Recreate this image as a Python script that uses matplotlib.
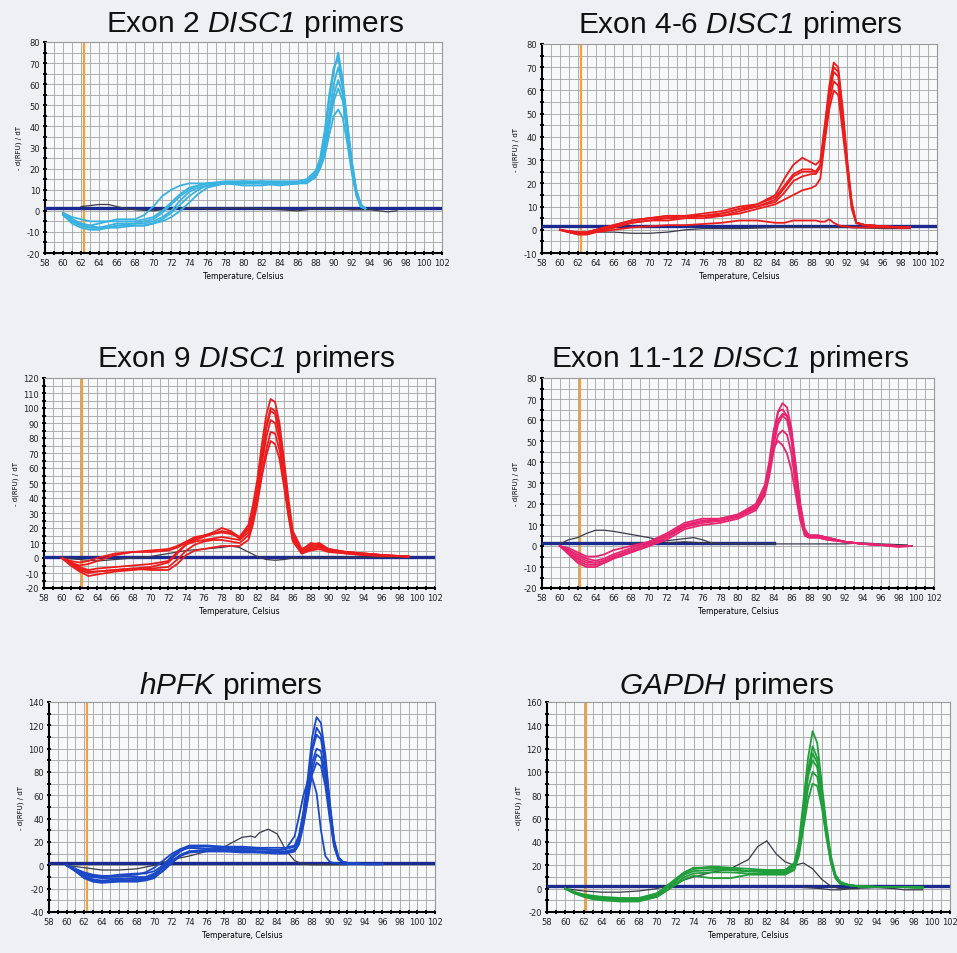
import matplotlib.pyplot as plt
from matplotlib.ticker import MultipleLocator

plt.rcParams['font.family'] = ['Liberation Sans', 'DejaVu Sans']
plt.rcParams['mathtext.fontset'] = 'custom'
plt.rcParams['mathtext.rm'] = 'Liberation Sans'
plt.rcParams['mathtext.sf'] = 'Liberation Sans:italic'
plt.rcParams['axes.unicode_minus'] = False

# melt curves, -d(RFU)/dT against temperature
# --- Exon 2 DISC1
t_ex2 = [60, 61, 62, 63, 64, 65, 66, 68, 69, 70, 71, 72, 73, 74, 75, 76, 78, 80, 82, 84, 86, 87, 88,
         88.5, 89, 89.5, 90, 90.5, 91, 91.5, 92, 92.5, 93, 93.5]
ex2_runs = [
    [-1, -4, -6, -7, -6, -5, -4, -4, -2, 2, 7, 10, 12, 13, 13, 13, 13, 13, 14, 13, 13, 14, 18,
     24, 36, 52, 66, 75, 62, 42, 24, 10, 3, 1],
    [-2, -5, -7, -8, -8, -7, -6, -6, -5, -4, -1, 3, 7, 10, 12, 13, 13, 13, 13, 13, 13, 14, 17,
     22, 32, 46, 60, 68, 58, 40, 22, 9, 3, 1],
    [-2, -6, -8, -9, -9, -8, -8, -7, -7, -6, -4, -1, 3, 7, 10, 12, 13, 14, 13, 12, 13, 14, 17,
     22, 30, 43, 55, 62, 55, 38, 21, 9, 2, 1],
    [-1, -4, -6, -7, -8, -8, -7, -7, -7, -6, -5, -3, 0, 4, 8, 11, 13, 13, 13, 13, 13, 14, 16,
     21, 28, 40, 52, 58, 52, 36, 20, 8, 2, 1],
    [-1, -3, -4, -5, -5, -5, -5, -5, -4, -3, 0, 4, 8, 11, 12, 13, 14, 14, 14, 14, 14, 15, 19,
     25, 38, 55, 68, 72, 60, 41, 23, 10, 3, 1],
    [-2, -5, -7, -8, -8, -8, -7, -6, -6, -5, -3, 0, 5, 9, 11, 12, 13, 12, 12, 13, 13, 13, 16,
     20, 26, 36, 45, 48, 44, 32, 18, 7, 2, 1],
]
t_ex2_ntc = [62, 63, 64, 65, 66, 67, 68, 70, 72, 74, 76, 80, 82, 86, 88, 90, 92, 94, 96, 97]
ex2_ntc = [2, 2.5, 3, 3, 2, 1, 0.5, 0, 1, 1.5, 1, 1.5, 1, 0, 1, 1, 0.5, 0.5, -0.5, 0]

# --- Exon 4-6 DISC1
t_ex46 = [60, 61, 62, 63, 64, 66, 68, 70, 72, 74, 76, 78, 80, 82, 84, 85, 86, 87, 88, 88.5, 89,
          89.5, 90, 90.5, 91, 91.5, 92, 92.5, 93, 94, 96, 98, 99]
ex46_runs = [
    [0, -1, -1.5, -1, 0, 2, 4, 5, 6, 6, 6, 7, 9, 11, 15, 22, 28, 31, 29, 28, 30,
     45, 62, 72, 70, 52, 30, 12, 3, 2, 1.5, 1, 1],
    [0, -1, -2, -2, -1, 1, 3, 4, 5, 5, 6, 6, 8, 10, 13, 18, 23, 25, 25, 25, 28,
     42, 58, 68, 66, 48, 28, 11, 3, 2, 1.5, 1, 1],
    [0, -0.5, -1, -1, 0, 2, 4, 5, 6, 6, 7, 8, 10, 11, 14, 19, 24, 26, 26, 25, 27,
     40, 55, 64, 62, 46, 27, 10, 3, 2, 1.5, 1, 1],
    [0, -1, -2, -2, -1, 1, 3, 4, 4, 5, 5, 6, 7, 9, 11, 13, 15, 17, 18, 19, 22,
     38, 52, 60, 58, 42, 25, 9, 3, 2, 1.5, 1, 1],
    [0, -1, -1.5, -1.5, -0.5, 1.5, 4, 5, 5, 6, 6, 7, 9, 10, 12, 16, 21, 23, 24, 24, 27,
     44, 60, 70, 68, 50, 29, 11, 3, 2, 1.5, 1, 1],
    [0, -1, -1.5, -1.5, -1, 0, 1, 1.5, 2, 2, 2.5, 3, 4, 4, 3, 3, 4, 4, 4, 4, 3.5,
     3.5, 4.5, 3, 2, 1.5, 1.5, 1, 1, 1, 1, 1, 1],
]
t_ex46_ntc = [60, 62, 64, 66, 68, 70, 72, 74, 76, 78, 80, 84, 88, 92, 96, 99]
ex46_ntc = [0, -1, -1, -1, -1.5, -1.5, -1, 0, 0.5, 0.5, 0.5, 1, 1, 1, 0.5, 0.5]

# --- Exon 9 DISC1
t_ex9 = [60, 61, 62, 63, 64, 66, 68, 70, 72, 73, 74, 75, 76, 77, 78, 79, 80, 81, 81.5, 82, 82.5,
         83, 83.5, 84, 84.5, 85, 85.5, 86, 87, 88, 89, 90, 92, 94, 96, 99]
ex9_runs = [
    [0, -2, -3, -2, 0, 3, 4, 4, 5, 7, 10, 13, 15, 17, 20, 18, 14, 22, 35, 52, 75,
     95, 106, 104, 90, 66, 40, 18, 6, 9, 10, 6, 4, 3, 2, 1],
    [0, -3, -5, -4, -2, 2, 4, 5, 6, 8, 11, 14, 15, 16, 17, 16, 14, 20, 30, 46, 68,
     88, 100, 98, 86, 62, 36, 16, 5, 10, 9, 6, 4, 3, 2, 1],
    [0, -4, -8, -10, -9, -8, -7, -6, -3, 3, 9, 11, 12, 13, 14, 13, 12, 17, 28, 42, 62,
     80, 92, 90, 78, 56, 32, 13, 4, 7, 8, 5, 4, 2.5, 1.5, 1],
    [0, -5, -9, -12, -11, -9, -8, -7, -6, -1, 5, 9, 11, 12, 12, 11, 10, 15, 25, 38, 56,
     72, 84, 83, 72, 52, 30, 12, 3, 6, 7, 5, 3, 2, 1.5, 1],
    [0, -4, -7, -9, -9, -8, -7, -8, -8, -4, 2, 5, 6, 7, 8, 8, 8, 12, 22, 36, 54,
     68, 78, 76, 66, 48, 28, 11, 3, 5, 6, 4, 3, 2, 1.5, 1],
    [0, -3, -6, -8, -7, -6, -5, -4, -2, 4, 9, 12, 14, 16, 18, 17, 13, 19, 30, 45, 65,
     86, 98, 96, 82, 58, 34, 14, 4, 8, 8, 5, 4, 3, 2, 1],
]
t_ex9_ntc = [60, 62, 64, 66, 68, 70, 72, 74, 76, 78, 79, 80, 81, 82, 83, 84, 85, 86, 88, 92, 96, 99]
ex9_ntc = [0, -1, -2, -1, 0, 1, 3, 5, 6, 7, 8, 7, 4, 1, -1, -1.5, -1, 0, 0, 0.5, 0.5, 0.5]

# --- Exon 11-12 DISC1
t_ex1112 = [60, 61, 62, 63, 64, 65, 66, 68, 70, 72, 74, 76, 78, 80, 82, 83, 83.5, 84, 84.5, 85,
            85.5, 86, 86.5, 87, 87.5, 88, 89, 90, 92, 94, 96, 98, 99.5]
ex1112_runs = [
    [0, -3, -6, -8, -8, -7, -5, -2, 1, 5, 10, 12, 12, 14, 19, 27, 38, 52, 64, 68,
     66, 56, 38, 20, 8, 5, 5, 4, 2, 1, 0.5, 0, 0],
    [0, -4, -8, -10, -10, -8, -6, -3, 0, 4, 9, 11, 12, 14, 18, 25, 35, 48, 58, 62,
     60, 50, 32, 16, 6, 4, 5, 4, 2, 1, 0.5, 0, 0],
    [0, -2, -4, -6, -7, -6, -4, -1, 2, 6, 11, 13, 13, 15, 20, 29, 40, 55, 64, 65,
     62, 52, 35, 18, 7, 5, 5, 4, 2, 1, 0.5, -0.5, 0],
    [0, -3, -7, -9, -9, -8, -6, -3, 0, 3, 8, 10, 11, 13, 17, 24, 33, 45, 53, 55,
     53, 44, 28, 14, 5, 4, 4, 3, 2, 1, 0.5, 0, 0],
    [0, -2, -5, -7, -8, -7, -5, -2, 1, 5, 10, 12, 13, 15, 19, 27, 36, 47, 50, 48,
     44, 36, 24, 12, 5, 4, 4, 3, 2, 1, 0.5, 0, 0],
    [0, -1, -3, -5, -5, -4, -2, 0, 2, 5, 9, 12, 12, 14, 18, 26, 37, 50, 60, 63,
     62, 54, 36, 18, 6, 5, 5, 4, 2, 1, 0.5, 0, 0],
]
t_ex1112_ntc = [60, 61, 62, 63, 64, 65, 66, 68, 70, 71, 72, 74, 76, 80, 84, 86, 88, 90, 92, 94, 96, 99]
ex1112_ntc = [1, 3, 4, 6, 7.5, 7.5, 7, 5.5, 4, 3, 1.5, 2, 1.5, 1, 1, 1, 1, 1, 1, 1.5, 1, 0.5]
t_ex1112_ntc2 = [68, 70, 72, 74, 75, 76, 77, 78]
ex1112_ntc2 = [1, 1.5, 2.5, 3.5, 4, 3, 1.5, 1]

# --- hPFK
t_pfk = [60, 61, 62, 63, 64, 66, 68, 69, 70, 71, 72, 73, 74, 76, 78, 80, 82, 84, 85, 86, 86.5,
         87, 87.5, 88, 88.5, 89, 89.5, 90, 90.5, 91, 91.5, 92, 94, 96]
pfk_runs = [
    [0, -4, -8, -10, -10, -9, -8, -6, -2, 4, 10, 14, 15, 14, 14, 14, 14, 13, 14, 25, 42,
     60, 72, 75, 62, 30, 8, 3, 2, 1.5, 1, 1, 1, 1],
    [0, -4, -9, -12, -13, -12, -11, -11, -9, -2, 6, 12, 16, 16, 15, 15, 14, 13, 14, 16, 24,
     45, 75, 110, 127, 122, 95, 55, 22, 7, 3, 2, 1, 1],
    [0, -5, -10, -13, -14, -13, -13, -12, -8, -1, 7, 13, 15, 14, 13, 13, 12, 12, 12, 14, 22,
     42, 68, 98, 112, 108, 85, 50, 20, 6, 3, 2, 1, 1],
    [0, -3, -6, -8, -9, -9, -10, -10, -7, -2, 4, 9, 12, 13, 13, 12, 12, 11, 11, 13, 20,
     38, 62, 88, 100, 98, 78, 46, 18, 6, 3, 2, 1, 1],
    [0, -4, -8, -10, -11, -11, -12, -12, -10, -5, 2, 8, 11, 12, 12, 12, 11, 11, 11, 12, 18,
     34, 56, 78, 88, 85, 68, 40, 16, 5, 3, 2, 1, 1],
    [0, -3, -7, -9, -10, -8, -7, -7, -5, 0, 8, 14, 17, 17, 16, 16, 15, 15, 15, 17, 26,
     46, 72, 100, 118, 112, 90, 52, 20, 6, 3, 2, 1, 1],
    [0, -5, -11, -14, -15, -14, -14, -13, -11, -4, 3, 9, 12, 12, 12, 11, 11, 10, 10, 12, 19,
     36, 58, 82, 95, 92, 74, 44, 17, 5, 3, 2, 1, 1],
]
t_pfk_ntc = [60, 62, 64, 66, 68, 70, 72, 74, 76, 78, 79, 80, 81, 81.5, 82, 83, 84, 85, 86, 87, 88, 90, 92]
pfk_ntc = [0, -2, -4, -4, -3, 0, 5, 8, 12, 16, 20, 24, 25, 24, 28, 31, 27, 13, 4, 1, 0.5, 0.5, 0.5]

# --- GAPDH
t_gapdh = [60, 61, 62, 63, 64, 66, 68, 70, 71, 72, 73, 74, 76, 78, 80, 82, 84, 85, 85.5, 86,
           86.5, 87, 87.5, 88, 88.5, 89, 89.5, 90, 91, 92, 94, 96, 99]
gapdh_runs = [
    [0, -3, -5, -7, -8, -9, -9, -4, 2, 8, 14, 17, 18, 16, 15, 15, 16, 22, 40, 75,
     112, 135, 125, 90, 55, 28, 12, 6, 3, 2, 1.5, 1.5, 1],
    [0, -4, -6, -8, -9, -10, -10, -6, 0, 6, 12, 15, 16, 16, 15, 15, 15, 20, 36, 68,
     102, 122, 112, 82, 50, 25, 10, 5, 3, 2, 1.5, 1.5, 1],
    [0, -3, -5, -6, -7, -8, -8, -4, 1, 7, 13, 17, 19, 18, 17, 16, 16, 21, 38, 66,
     96, 110, 104, 78, 48, 24, 10, 5, 3, 2, 1.5, 1.5, 1],
    [0, -4, -7, -9, -10, -11, -11, -7, -2, 4, 10, 13, 14, 14, 13, 13, 13, 17, 30, 58,
     86, 100, 96, 74, 46, 23, 9, 5, 3, 2, 1.5, 1.5, 1],
    [0, -3, -6, -7, -8, -9, -10, -7, -2, 3, 8, 11, 9, 9, 12, 12, 12, 16, 28, 52,
     76, 90, 88, 70, 44, 22, 9, 4, 3, 2, 1.5, 1.5, 1],
    [0, -4, -6, -8, -9, -9, -9, -5, 1, 8, 14, 18, 18, 17, 15, 14, 14, 19, 34, 64,
     98, 116, 108, 80, 50, 25, 10, 5, 3, 2, 1.5, 1.5, 1],
]
t_gapdh_ntc = [60, 62, 64, 66, 68, 70, 72, 74, 76, 78, 80, 81, 82, 83, 84, 85, 86, 87, 88, 89, 90, 91, 92]
gapdh_ntc = [0, -2, -3, -3, -2, 0, 5, 10, 14, 17, 25, 36, 41, 30, 23, 20, 22, 17, 8, 2, 0, 0, 0]
t_gapdh_ntc2 = [86, 88, 89, 90, 91, 94, 96, 97, 99]
gapdh_ntc2 = [1, 0, -1, -1, 0, 1, 0, -1, -1]

panels = [
    dict(title='Exon 2 $\\mathsf{DISC1}$ primers', t=t_ex2, runs=ex2_runs, color='#38b2e0',
         ntc=[(t_ex2_ntc, ex2_ntc)], ylim=(-20, 80), ystep=10, thr=1.2, thr_end=102,
         pos=(45, 43, 442, 254), tx=255, ty=32),
    dict(title='Exon 4-6 $\\mathsf{DISC1}$ primers', t=t_ex46, runs=ex46_runs, color='#ec1c1c',
         ntc=[(t_ex46_ntc, ex46_ntc)], ylim=(-10, 80), ystep=10, thr=1.5, thr_end=102,
         pos=(542, 45, 937, 254), tx=740, ty=33),
    dict(title='Exon 9 $\\mathsf{DISC1}$ primers', t=t_ex9, runs=ex9_runs, color='#ec1c1c',
         ntc=[(t_ex9_ntc, ex9_ntc)], ylim=(-20, 120), ystep=10, thr=1.0, thr_end=102,
         pos=(44, 379, 435, 589), tx=246, ty=367),
    dict(title='Exon 11-12 $\\mathsf{DISC1}$ primers', t=t_ex1112, runs=ex1112_runs, color='#e8236f',
         ntc=[(t_ex1112_ntc, ex1112_ntc), (t_ex1112_ntc2, ex1112_ntc2)], ylim=(-20, 80), ystep=10,
         thr=1.4, thr_end=84, pos=(542, 379, 934, 589), tx=730, ty=367),
    dict(title='$\\mathsf{hPFK}$ primers', t=t_pfk, runs=pfk_runs, color='#1b48c6',
         ntc=[(t_pfk_ntc, pfk_ntc)], ylim=(-40, 140), ystep=20, thr=1.7, thr_end=102,
         pos=(49, 703, 435, 913), tx=231, ty=694),
    dict(title='$\\mathsf{GAPDH}$ primers', t=t_gapdh, runs=gapdh_runs, color='#1f9e3a',
         ntc=[(t_gapdh_ntc, gapdh_ntc), (t_gapdh_ntc2, gapdh_ntc2)], ylim=(-20, 160), ystep=20,
         thr=2.0, thr_end=102, pos=(547, 703, 950, 913), tx=727, ty=694),
]

W, H = 957, 954
fig = plt.figure(figsize=(W / 100, H / 100), dpi=100, facecolor='#eef0f4')

for p in panels:
    l, t, r, b = p['pos']
    ax = fig.add_axes([l / W, 1 - b / H, (r - l) / W, (b - t) / H])
    ax.set_facecolor('#f7f8fa')
    ax.set_xlim(58, 102)
    ax.set_ylim(*p['ylim'])
    ax.xaxis.set_major_locator(MultipleLocator(2))
    ax.xaxis.set_minor_locator(MultipleLocator(1))
    ax.yaxis.set_major_locator(MultipleLocator(p['ystep']))
    ax.yaxis.set_minor_locator(MultipleLocator(p['ystep'] / 2))
    ax.grid(which='both', color='#a2a2a2', lw=0.6)
    ax.set_axisbelow(True)
    ax.tick_params(which='both', direction='inout', length=3, width=1.4, colors='black',
                   labelsize=6, labelcolor='#222222', pad=2)
    for side in ('left', 'bottom'):
        ax.spines[side].set_color('black')
        ax.spines[side].set_linewidth(1.5)
    for side in ('top', 'right'):
        ax.spines[side].set_color('#999999')
        ax.spines[side].set_linewidth(0.8)

    ax.axvline(62.3, color='#f5a032', lw=1.6, zorder=2)
    ax.plot([58, p['thr_end']], [p['thr'], p['thr']], color='#1b2a8f', lw=2.4, zorder=3)
    for tn, yn in p['ntc']:
        ax.plot(tn, yn, color='#3a3a4a', lw=0.9, zorder=3)
    for run in p['runs']:
        ax.plot(p['t'], run, color=p['color'], lw=1.3, zorder=4)

    ax.set_xlabel('Temperature, Celsius', fontsize=5.5, labelpad=3,
                  family=['DejaVu Sans'])
    ax.set_ylabel('- d(RFU) / dT', fontsize=5, labelpad=3, family=['DejaVu Sans'])
    for lab in ax.get_xticklabels() + ax.get_yticklabels():
        lab.set_family('DejaVu Sans')

    fig.text(p['tx'] / W, 1 - p['ty'] / H, p['title'], fontsize=21.5, ha='center',
             va='baseline', color='#111111')

fig.savefig('out.png', dpi=100, facecolor=fig.get_facecolor())
